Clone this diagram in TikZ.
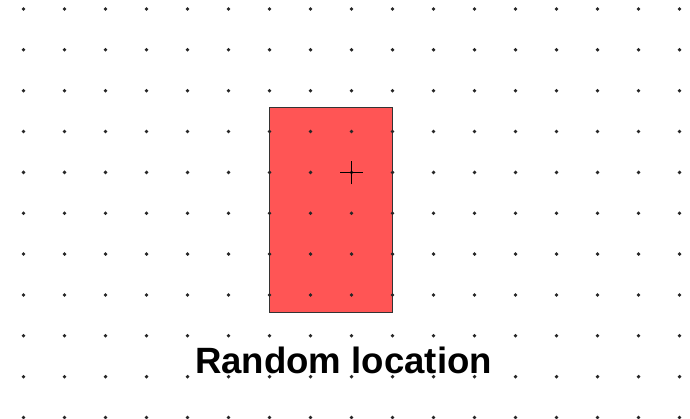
\documentclass[tikz,border=0pt]{standalone}
\usepackage{fontspec}
\setmainfont{Liberation Sans}
\definecolor{boxred}{RGB}{255,85,85}
\begin{document}
\begin{tikzpicture}[x=1pt,y=-1pt,
  griddot/.style={circle,fill=black!85,inner sep=0pt,minimum size=3.8pt},
  regionbox/.style={draw=black!80,line width=1.1pt,fill=boxred},
  crossmark/.style={draw=black,line width=1pt},
  caption/.style={font=\fontsize{36.6}{40}\selectfont\bfseries,inner sep=0pt,anchor=base}]
\useasboundingbox[fill=white] (0,0) rectangle (690,419);
\node[regionbox,minimum width=123pt,minimum height=204.5pt,inner sep=0pt] (box) at (331,210) {};
\foreach \i in {0,...,16}{
  \foreach \j in {0,...,10}{
    \node[griddot] (d-\i-\j) at ({23.5+41*\i},{9+40.85*\j}) {};
  }
}
\coordinate (c) at (351.5,173);
\draw[crossmark] ([xshift=-11.5pt]c) -- ([xshift=11.5pt]c);
\draw[crossmark] ([yshift=-11.5pt]c) -- ([yshift=11.5pt]c);
\node[caption] (label) at (343.5,373) {Random location};
\end{tikzpicture}
\end{document}
